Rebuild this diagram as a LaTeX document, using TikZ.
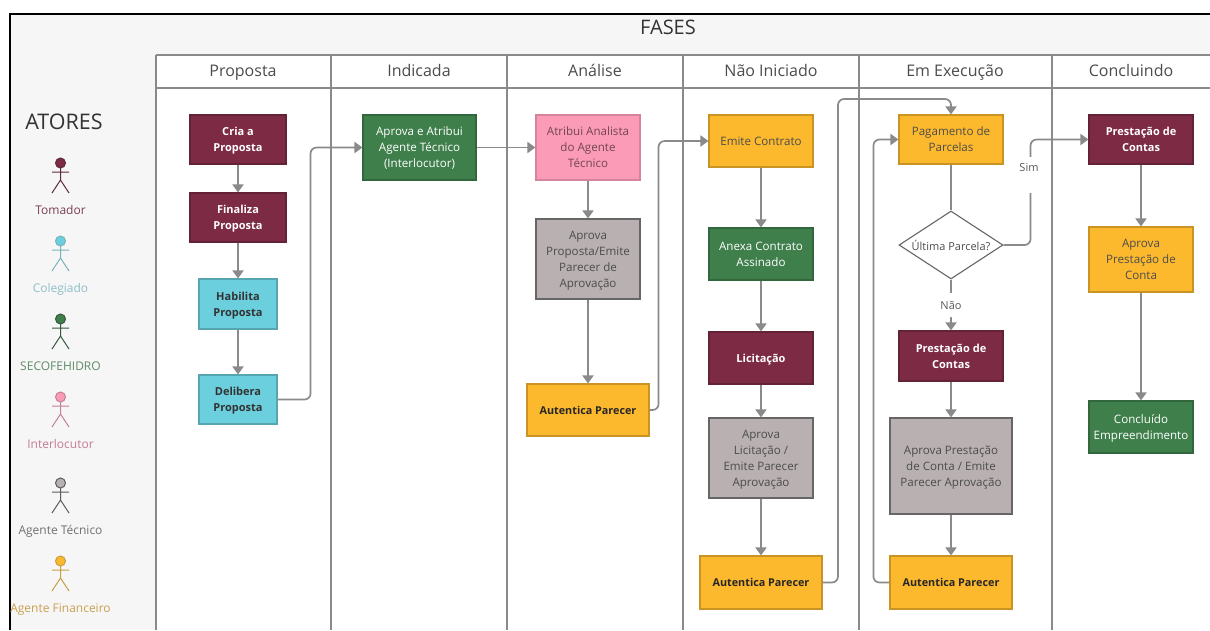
\documentclass[tikz,border=0pt]{standalone}
\usepackage{fontspec}
\setmainfont{Open Sans}
\usetikzlibrary{arrows.meta,shapes.geometric}
\definecolor{vinho}{HTML}{7D2A45}
\definecolor{ciano}{HTML}{6BCFDD}
\definecolor{verde}{HTML}{3F7F4B}
\definecolor{rosa}{HTML}{FB9BB7}
\definecolor{cinza}{HTML}{B9B1B1}
\definecolor{ambar}{HTML}{FDB92D}
\definecolor{fio}{HTML}{8A8A8A}
\definecolor{fundo}{HTML}{F6F6F6}
\tikzset{
    caixa/.style={rectangle,draw,line width=1.1pt,inner sep=0pt,align=center,text depth=0pt,font=\fontsize{11.6}{16}\selectfont},
    tomador/.style={caixa,fill=vinho,draw=vinho!80!black,text=white,font=\fontsize{11}{16}\selectfont\bfseries},
    colegiado/.style={caixa,fill=ciano,draw=ciano!80!black,text=black!80,font=\fontsize{11}{16}\selectfont\bfseries},
    secof/.style={caixa,fill=verde,draw=verde!80!black,text=white},
    interloc/.style={caixa,fill=rosa,draw=rosa!85!black,text=rosa!45!black},
    tecnico/.style={caixa,fill=cinza,draw=black!60,text=black!70},
    financ/.style={caixa,fill=ambar,draw=ambar!80!black,text=black!70},
    autentica/.style={financ,text=black!85,font=\fontsize{10.8}{16}\selectfont\bfseries},
    fluxo/.style={draw=fio,line width=1.7pt,rounded corners=6pt,-{Triangle[width=11pt,length=8pt]}},
    fluxolivre/.style={draw=fio,line width=1.7pt},
    rotulo/.style={fill=white,inner sep=2pt,text depth=0pt,text=black!65,font=\fontsize{11}{15.5}\selectfont},
    raia/.style={draw=fio,line width=1.3pt},
    cabeca/.style={text=black!70,text height=12pt,text depth=3pt,font=\fontsize{16}{18}\selectfont}
}

\begin{document}
\begin{tikzpicture}[x=1pt,y=-1pt]
    \useasboundingbox (0,0) rectangle (1210,630);
    \fill [white] (0,0) rectangle (1210,630);
    \fill [fundo] (10,14) rectangle (1210,630);
    \draw [black,line width=1.5pt] (10,630) -- (10,14) -- (1210,14);

    % raias
    \fill [white] (156,55) rectangle (1210,630);
    \draw [raia] (156,55) -- (1210,55);
    \draw [raia] (156,88) -- (1210,88);
    \foreach \x in {156,331,507,683,859,1052} {
        \draw [raia] (\x,55) -- (\x,630);
    }
    \node [text=black!80,font=\fontsize{20}{22}\selectfont] (fases) at (668,27) {FASES};
    \foreach \x/\nome/\n in {243/Proposta/h1,419/Indicada/h2,595/Análise/h3,771/Não Iniciado/h4,955/Em Execução/h5,1131/Concluindo/h6} {
        \node [cabeca] (\n) at (\x,72) {\nome};
    }

    % atores
    \node [text=black!80,font=\fontsize{21.5}{24}\selectfont] (atores) at (64,122) {ATORES};
    \foreach \y/\nome/\cor/\traco/\letra/\n in {
        163/Tomador/vinho/5E2A3A/7A4050/a1,
        241/Colegiado/ciano/78B4BC/8FBFC8/a2,
        319/SECOFEHIDRO/verde/34583C/5F8A68/a3,
        397/Interlocutor/rosa/C77F96/C47A95/a4,
        483/Agente Técnico/cinza/5C5C5C/707070/a5,
        561/Agente Financeiro/ambar/C79F45/C9A050/a6} {
        \definecolor{tr}{HTML}{\traco}
        \definecolor{le}{HTML}{\letra}
        \draw [line width=1pt,draw=tr,fill=\cor] (60.5,\y) circle (5);
        \draw [line width=1pt,draw=tr] (60.5,\y+5) -- (60.5,\y+17) (52,\y+9) -- (69,\y+9)
            (52,\y+30) -- (60.5,\y+17) -- (69,\y+30);
        \node [text=le,text height=9pt,text depth=2pt,font=\fontsize{12}{13}\selectfont] (\n) at (60.5,\y+48) {\nome};
    }

    % Proposta
    \node [tomador,minimum width=96,minimum height=49] (cria) at (238,139.5) {Cria a\\Proposta};
    \node [tomador,minimum width=96,minimum height=49] (finaliza) at (238,217.5) {Finaliza\\Proposta};
    \node [colegiado,minimum width=78,minimum height=50] (habilita) at (238,304) {Habilita\\Proposta};
    \node [colegiado,minimum width=78,minimum height=49] (delibera) at (238,399.5) {Delibera\\Proposta};
    % Indicada
    \node [secof,minimum width=113,minimum height=65] (atribuiagente) at (419.5,147.5) {Aprova e Atribui\\Agente Técnico\\(Interlocutor)};
    % Analise
    \node [interloc,minimum width=104,minimum height=65] (analista) at (588,147.5) {Atribui Analista\\do Agente\\Técnico};
    \node [tecnico,minimum width=104,minimum height=80] (emiteparecer) at (588,259) {Aprova\\Proposta/Emite\\Parecer de\\Aprovação};
    \node [autentica,minimum width=122,minimum height=52] (autanalise) at (588,410) {Autentica Parecer};
    % Nao Iniciado
    \node [financ,minimum width=104,minimum height=52] (contrato) at (761,141) {Emite Contrato};
    \node [secof,minimum width=104,minimum height=52] (anexa) at (761,254) {Anexa Contrato\\Assinado};
    \node [tomador,minimum width=104,minimum height=52] (licitacao) at (761,358) {Licitação};
    \node [tecnico,minimum width=104,minimum height=80] (aprovalic) at (761,458) {Aprova\\Licitação /\\Emite Parecer\\Aprovação};
    \node [autentica,minimum width=122,minimum height=53] (autinicio) at (761,582.5) {Autentica Parecer};
    % Em Execucao
    \node [financ,minimum width=104,minimum height=49] (pagamento) at (951,139.5) {Pagamento de\\Parcelas};
    \node [diamond,draw=black!60,line width=1.1pt,fill=white,inner sep=0pt,aspect=1.53,minimum width=104,minimum height=68,text=black!70,font=\fontsize{11}{15.5}\selectfont] (ultima) at (951,245) {\makebox[0pt]{Última Parcela?}};
    \node [tomador,minimum width=104,minimum height=50] (prestacao) at (951,356) {Prestação de\\Contas};
    \node [tecnico,minimum width=122,minimum height=96] (aprovaconta) at (951,466) {Aprova Prestação\\de Conta / Emite\\Parecer Aprovação};
    \node [autentica,minimum width=122,minimum height=53] (autexec) at (951,582.5) {Autentica Parecer};
    % Concluindo
    \node [tomador,minimum width=104,minimum height=49] (prestacaofim) at (1141,139.5) {Prestação de\\Contas};
    \node [financ,minimum width=104,minimum height=65] (aprovafim) at (1141,259.5) {Aprova\\Prestação de\\Conta};
    \node [secof,minimum width=104,minimum height=52] (concluido) at (1141,427) {Concluído\\Empreendimento};

    \coordinate (topo) at (838,99);

    \draw [fluxo] (cria) -- (finaliza);
    \draw [fluxo] (finaliza) -- (habilita);
    \draw [fluxo] (habilita) -- (delibera);
    \draw [fluxo] (delibera.east) -- ++(33,0) |- (atribuiagente.west);
    \draw [fluxo] (atribuiagente) -- (analista);
    \draw [fluxo] (analista) -- (emiteparecer);
    \draw [fluxo] (emiteparecer) -- (autanalise);
    \draw [fluxo] (autanalise.east) -- ++(9,0) |- (contrato.west);
    \draw [fluxo] (contrato) -- (anexa);
    \draw [fluxo] (anexa) -- (licitacao);
    \draw [fluxo] (licitacao) -- (aprovalic);
    \draw [fluxo] (aprovalic) -- (autinicio);
    \draw [fluxo] (autinicio.east) -| (topo) -| (pagamento.north);
    \draw [fluxolivre] (pagamento) -- (ultima);
    \draw [fluxo] (ultima) -- node [rotulo,minimum height=24] (nao) {Não} (prestacao);
    \draw [fluxo] (prestacao) -- (aprovaconta);
    \draw [fluxo] (aprovaconta) -- (autexec);
    \draw [fluxo] (autexec.west) -- ++(-16,0) |- (pagamento.west);
    \draw [fluxo] (ultima.east) -- ++(27,0) |- (prestacaofim.west);
    \node [rotulo,text height=18pt,text depth=18pt,inner ysep=0pt] (sim) at (1029,175) {\raisebox{3.5pt}{Sim}};
    \draw [fluxo] (prestacaofim) -- (aprovafim);
    \draw [fluxo] (aprovafim) -- (concluido);
\end{tikzpicture}
\end{document}
